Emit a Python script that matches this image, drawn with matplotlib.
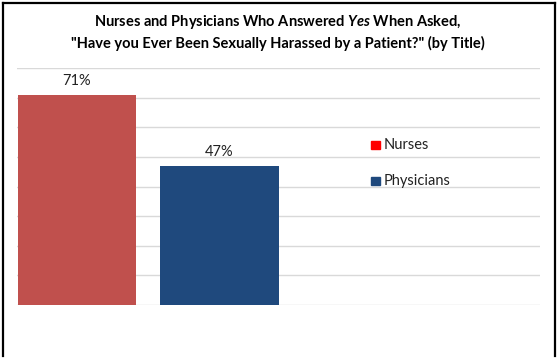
import matplotlib
matplotlib.use("Agg")
import matplotlib.pyplot as plt
from matplotlib.lines import Line2D
from matplotlib.patches import Rectangle

plt.rcParams["mathtext.fontset"] = "custom"
plt.rcParams["mathtext.it"] = "Lato:bold:italic"
plt.rcParams["mathtext.rm"] = "Lato:bold"
plt.rcParams["mathtext.bf"] = "Lato:bold"

categories = ["Nurses", "Physicians"]
values = [71, 47]
labels = ["71%", "47%"]
colors = ["#C0504D", "#1F497D"]
legend_colors = ["#FF0000", "#1F497D"]

W, H = 559, 360
fig = plt.figure(figsize=(W / 100, H / 100), dpi=100)
fig.patch.set_facecolor("white")

def fx(px):
    return px / W

def fy(py):
    return 1 - py / H

# plot area: x 17..540, y 68 (80%) .. 305 (0%)
ax = fig.add_axes([fx(17), fy(305), fx(540) - fx(17), fy(68) - fy(305)])
ax.set_ylim(0, 80)
ax.set_xlim(-0.42, 3.25)
ax.set_yticks(range(0, 81, 10))
ax.yaxis.grid(True, color="#D9D9D9", linewidth=1)
ax.set_axisbelow(True)
for s in ax.spines.values():
    s.set_visible(False)
ax.tick_params(left=False, bottom=False, labelleft=False, labelbottom=False)

bars = ax.bar(range(len(values)), values, width=0.83, color=colors, zorder=3)
for b, lab in zip(bars, labels):
    ax.text(b.get_x() + b.get_width() / 2, b.get_height() + 2.2, lab,
            ha="center", va="bottom", fontsize=10.5, color="#222222",
            family=["Lato", "DejaVu Sans"])

# title
fig.text(0.497, fy(22), "Nurses and Physicians Who Answered $\\it{Yes}$ When Asked,",
         ha="center", va="center", fontsize=10.5, fontweight="bold",
         family=["Lato", "DejaVu Sans"])
fig.text(0.497, fy(43), "\"Have you Ever Been Sexually Harassed by a Patient?\" (by Title)",
         ha="center", va="center", fontsize=10.5, fontweight="bold",
         family=["Lato", "DejaVu Sans"])

# legend
leg_y = [145, 181]
for cat, c, y in zip(categories, legend_colors, leg_y):
    fig.patches.append(Rectangle((fx(371), fy(y + 4)), fx(380) - fx(371), fy(y - 4) - fy(y + 4),
                                 transform=fig.transFigure, color=c, figure=fig))
    fig.text(fx(384), fy(y), cat, ha="left", va="center", fontsize=10.5,
             color="#222222", family=["Lato", "DejaVu Sans"])

# outer border (no bottom)
for xs, ys in [([3, 3], [356, 3]), ([3, 554.5], [3, 3]), ([554.5, 554.5], [3, 356])]:
    fig.lines.append(Line2D([fx(x) for x in xs], [fy(y) for y in ys],
                            transform=fig.transFigure, color="black", linewidth=1.6, figure=fig))

fig.savefig("out.png", dpi=100)
